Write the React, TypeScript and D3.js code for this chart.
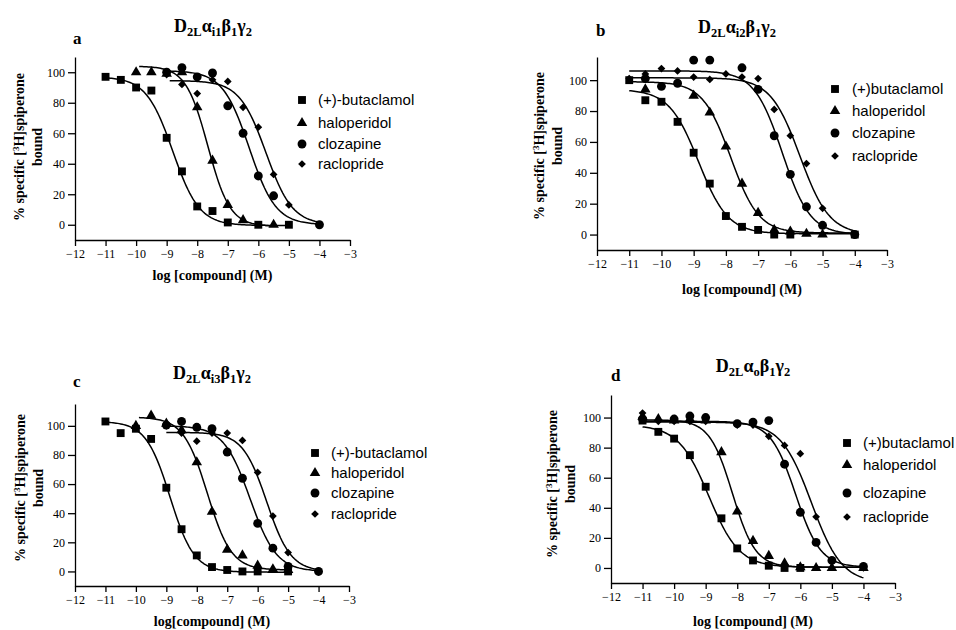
import { useEffect, useRef } from 'react';
import * as d3 from 'd3';

const xTicks = [-12, -11, -10, -9, -8, -7, -6, -5, -4, -3];
const yTicks = [0, 20, 40, 60, 80, 100];
const legendDash = ['(+)-butaclamol', 'haloperidol', 'clozapine', 'raclopride'];
const legendNoDash = ['(+)butaclamol', 'haloperidol', 'clozapine', 'raclopride'];
const alphaSubs = ['i1', 'i2', 'i3', 'o'];
const panelLetters = ['a', 'b', 'c', 'd'];
const xLabels = ['log [compound] (M)', 'log [compound] (M)', 'log[compound] (M)', 'log [compound] (M)'];

// [log concentration, % specific binding]
const aButaclamol = [[-11, 97], [-10.5, 95], [-10, 90], [-9.5, 88], [-9, 57], [-8.5, 35], [-8, 12], [-7.5, 9], [-7, 1.5], [-6, 0], [-5, 0]];
const aHaloperidol = [[-10, 100], [-9.5, 100], [-9, 99], [-8.5, 100], [-8, 77], [-7.5, 42], [-7, 13], [-6.5, 3], [-5.5, 0]];
const aClozapine = [[-9, 100], [-8.5, 103], [-8, 97], [-7.5, 99.5], [-7, 78], [-6.5, 60], [-6, 32], [-5.5, 19], [-4, 0]];
const aRaclopride = [[-9, 98.5], [-8.5, 92], [-8, 86], [-7.5, 95], [-7, 94], [-6.5, 77], [-6, 64], [-5.5, 33], [-5, 13], [-4, 0]];

const bButaclamol = [[-11, 100], [-10.5, 87], [-10, 86], [-9.5, 73], [-9, 53], [-8.5, 33], [-8, 12], [-7.5, 5], [-7, 3], [-6.5, 0], [-6, 0], [-4, 0]];
const bHaloperidol = [[-10.5, 94], [-9, 90], [-8.5, 79], [-8, 57], [-7.5, 33], [-7, 14], [-6.5, 3], [-6, 2], [-5.5, 0.5], [-5, 0]];
const bClozapine = [[-10.5, 101], [-10, 96], [-9.5, 98], [-9, 113], [-8.5, 113], [-7.5, 108], [-7, 94], [-6.5, 64], [-6, 39], [-5.5, 18], [-5, 6], [-4, 0]];
const bRaclopride = [[-11, 101], [-10.5, 104], [-10, 107.5], [-9.5, 106], [-9, 102], [-8.5, 100.5], [-8, 104], [-7.5, 102], [-7, 101], [-6.5, 81], [-6, 64], [-5.5, 46], [-5, 17], [-4, 0]];

const cButaclamol = [[-11, 103], [-10.5, 95], [-10, 98], [-9.5, 91], [-9, 57.5], [-8.5, 29], [-8, 11], [-7.5, 3], [-7, 1], [-6.5, 0], [-6, 0], [-5, 0]];
const cHaloperidol = [[-10, 100], [-9.5, 107], [-9, 101.5], [-8.5, 97], [-8, 75], [-7.5, 41], [-7, 15], [-6.5, 11], [-6, 4], [-5.5, 1.5], [-5, 1]];
const cClozapine = [[-9, 100.5], [-8.5, 103], [-8, 99], [-7.5, 98], [-7, 82], [-6.5, 64], [-6, 33], [-5.5, 16], [-5, 3.5], [-4, 0]];
const cRaclopride = [[-9, 100], [-8.5, 95], [-8, 89.5], [-7.5, 95], [-7, 95], [-6.5, 90], [-6, 68], [-5.5, 38], [-5, 13], [-4, 0]];

const dButaclamol = [[-11, 98], [-10.5, 90.5], [-10, 86], [-9.5, 75], [-9, 54], [-8.5, 33], [-8, 13], [-7.5, 5], [-7, 1.5], [-6.5, 0], [-6, 0]];
const dHaloperidol = [[-11, 100.5], [-10.5, 99], [-10, 98], [-9.5, 99], [-9, 98], [-8.5, 77], [-8, 37.5], [-7.5, 18], [-7, 8], [-6.5, 3], [-6, 0.5], [-5.5, 0], [-5, 0], [-4, 0]];
const dClozapine = [[-11, 99], [-10, 99], [-9.5, 101], [-9, 100], [-8, 96], [-7.5, 97], [-7, 98], [-6.5, 69], [-6, 37], [-5.5, 17], [-5, 5], [-4, 1]];
const dRaclopride = [[-11, 103], [-10.5, 97.5], [-10, 97.5], [-9.5, 97.5], [-9, 97.5], [-8, 95], [-7.5, 95], [-7, 87.5], [-6.5, 81.5], [-6, 76], [-5.5, 34], [-5, 5], [-4, 0]];

// fitted curves: [top, bottom, logIC50, hill slope, from, to]
const aFits = [[97, -0.5, -8.8, 1.0, -11, -5], [104, -1, -7.65, 1.2, -9.9, -5.5], [101, 0, -6.3, 1.0, -9, -4], [94.5, 0, -5.75, 1.0, -8.9, -4]];
const bFits = [[94, 0.5, -8.85, 0.95, -11, -4], [99, 1, -7.85, 1.0, -11, -4], [106, 0, -6.25, 1.0, -11, -4], [101.5, 0, -5.7, 0.95, -11, -4]];
const cFits = [[103, -0.5, -8.88, 1.1, -11, -5], [106, 1, -7.65, 1.1, -9.9, -5], [100, 0, -6.25, 1.0, -9, -4], [95.5, 0, -5.7, 1.1, -9, -4]];
const dFits = [[95, 0.5, -8.9, 0.9, -11, -4], [98.5, 0.5, -8.15, 1.2, -11, -4], [97.5, 0.5, -6.15, 1.1, -11, -4], [97, -10, -5.65, 0.9, -11, -4]];

const panelPoints = [
    [aButaclamol, aHaloperidol, aClozapine, aRaclopride],
    [bButaclamol, bHaloperidol, bClozapine, bRaclopride],
    [cButaclamol, cHaloperidol, cClozapine, cRaclopride],
    [dButaclamol, dHaloperidol, dClozapine, dRaclopride],
];
const panelFits = [aFits, bFits, cFits, dFits];
const panelLegends = [legendDash, legendNoDash, legendDash, legendNoDash];

// pixel layout of each panel
const layouts = [
    { left: 75, right: 350, top: 57, bottom: 240, yMax: 110, letterX: 73, letterY: 44, titleX: 213, titleY: 32, ylabX: 24, ylabY: 147, xlabY: 280, legX: 302, legTextX: 318, legY: [100, 123, 144, 164] },
    { left: 597, right: 887, top: 57, bottom: 250, yMax: 115, letterX: 596, letterY: 36, titleX: 737, titleY: 33, ylabX: 544, ylabY: 146, xlabY: 294, legX: 835, legTextX: 852, legY: [89, 111, 133, 156] },
    { left: 75, right: 349, top: 404, bottom: 586, yMax: 115, letterX: 73, letterY: 387, titleX: 212, titleY: 379, ylabX: 25, ylabY: 488, xlabY: 626, legX: 315, legTextX: 331, legY: [453, 473, 493, 514] },
    { left: 611, right: 895, top: 395, bottom: 583, yMax: 115, letterX: 611, letterY: 381, titleX: 753, titleY: 372, ylabX: 557, ylabY: 484, xlabY: 626, legX: 847, legTextX: 863, legY: [443, 465, 493, 517] },
];

// square, triangle, circle, diamond (diamond = square turned 45deg)
const symbols = [d3.symbolSquare, d3.symbolTriangle, d3.symbolCircle, d3.symbolSquare];
const symbolSizes = [62, 48, 62, 30];
const symbolTurn = [0, 0, 0, 45];

const serif = 'Liberation Serif, Times New Roman, serif';
const sans = 'Liberation Sans, Arial, sans-serif';

const logistic = (f: number[], x: number) =>
    f[1] + (f[0] - f[1]) / (1 + Math.pow(10, (x - f[2]) * f[3]));

const App = () => {
    const ref = useRef<SVGSVGElement>(null);

    useEffect(() => {
        const svg = d3.select(ref.current);
        svg.selectAll('*').remove();

        layouts.forEach((lay, p) => {
            const g = svg.append('g');
            const x = d3.scaleLinear().domain([-12, -3]).range([lay.left, lay.right]);
            const y = d3.scaleLinear().domain([-10, lay.yMax]).range([lay.bottom, lay.top]);

            // axes
            const xAxis = g.append('g')
                .attr('transform', `translate(0,${lay.bottom})`)
                .call(d3.axisBottom(x).tickValues(xTicks).tickSize(6).tickSizeOuter(0).tickPadding(3));
            const yAxis = g.append('g')
                .attr('transform', `translate(${lay.left},0)`)
                .call(d3.axisLeft(y).tickValues(yTicks).tickSize(7).tickSizeOuter(0).tickPadding(3));
            [xAxis, yAxis].forEach(a => {
                a.attr('font-family', null).attr('font-size', null);
                a.selectAll('path, line').attr('stroke', '#000').attr('stroke-width', 1.3);
                a.selectAll('text')
                    .style('font-family', serif)
                    .style('font-size', '12px')
                    .attr('fill', '#000');
            });

            // fitted curves
            const curve = d3.line<[number, number]>().x(d => x(d[0])).y(d => y(d[1]));
            panelFits[p].forEach(f => {
                const xs = d3.range(f[4], f[5] + 0.001, 0.05);
                const pts = xs.map(v => [v, logistic(f, v)] as [number, number]);
                g.append('path')
                    .attr('d', curve(pts))
                    .attr('fill', 'none')
                    .attr('stroke', '#000')
                    .attr('stroke-width', 1.5);
            });

            // data points
            panelPoints[p].forEach((series, s) => {
                const sym = d3.symbol().type(symbols[s]).size(symbolSizes[s]);
                g.selectAll(null)
                    .data(series)
                    .enter().append('path')
                    .attr('d', sym)
                    .attr('transform', d => `translate(${x(d[0])},${y(d[1])}) rotate(${symbolTurn[s]})`)
                    .attr('fill', '#000');
            });

            // legend
            panelLegends[p].forEach((name, s) => {
                const sym = d3.symbol().type(symbols[s]).size(symbolSizes[s]);
                g.append('path')
                    .attr('d', sym)
                    .attr('transform', `translate(${lay.legX},${lay.legY[s]}) rotate(${symbolTurn[s]})`)
                    .attr('fill', '#000');
                g.append('text')
                    .attr('x', lay.legTextX)
                    .attr('y', lay.legY[s] + 5)
                    .style('font-family', sans)
                    .style('font-size', '15px')
                    .text(name);
            });

            // title
            const title = g.append('text')
                .attr('x', lay.titleX)
                .attr('y', lay.titleY)
                .attr('text-anchor', 'middle')
                .style('font-family', serif)
                .style('font-weight', 'bold')
                .style('font-size', '18px');
            const parts: [string, boolean][] = [['D', false], ['2L', true], ['α', false], [alphaSubs[p], true], ['β', false], ['1', true], ['γ', false], ['2', true]];
            parts.forEach(([t, sub], i) => {
                const prevSub = i > 0 && parts[i - 1][1];
                title.append('tspan')
                    .attr('dy', sub ? 4 : (prevSub ? -4 : 0))
                    .style('font-size', sub ? '12.5px' : '18px')
                    .text(t);
            });

            // panel letter
            g.append('text')
                .attr('x', lay.letterX)
                .attr('y', lay.letterY)
                .style('font-family', serif)
                .style('font-weight', 'bold')
                .style('font-size', '17px')
                .text(panelLetters[p]);

            // x label
            g.append('text')
                .attr('x', (lay.left + lay.right) / 2)
                .attr('y', lay.xlabY)
                .attr('text-anchor', 'middle')
                .style('font-family', serif)
                .style('font-weight', 'bold')
                .style('font-size', '14px')
                .text(xLabels[p]);

            // y label
            const yl = g.append('text')
                .attr('transform', `translate(${lay.ylabX},${lay.ylabY}) rotate(-90)`)
                .attr('text-anchor', 'middle')
                .style('font-family', serif)
                .style('font-weight', 'bold')
                .style('font-size', '14px');
            yl.append('tspan').text('% specific [');
            yl.append('tspan').attr('dy', -5).style('font-size', '9px').text('3');
            yl.append('tspan').attr('dy', 5).text('H]spiperone');
            g.append('text')
                .attr('transform', `translate(${lay.ylabX + 18},${lay.ylabY}) rotate(-90)`)
                .attr('text-anchor', 'middle')
                .style('font-family', serif)
                .style('font-weight', 'bold')
                .style('font-size', '14px')
                .text('bound');
        });
    }, []);

    return (
        <svg
            ref={ref}
            width={956}
            height={630}
            style={{ position: 'absolute', left: 0, top: 0, background: '#fff' }}
        />
    );
};

export default App;
